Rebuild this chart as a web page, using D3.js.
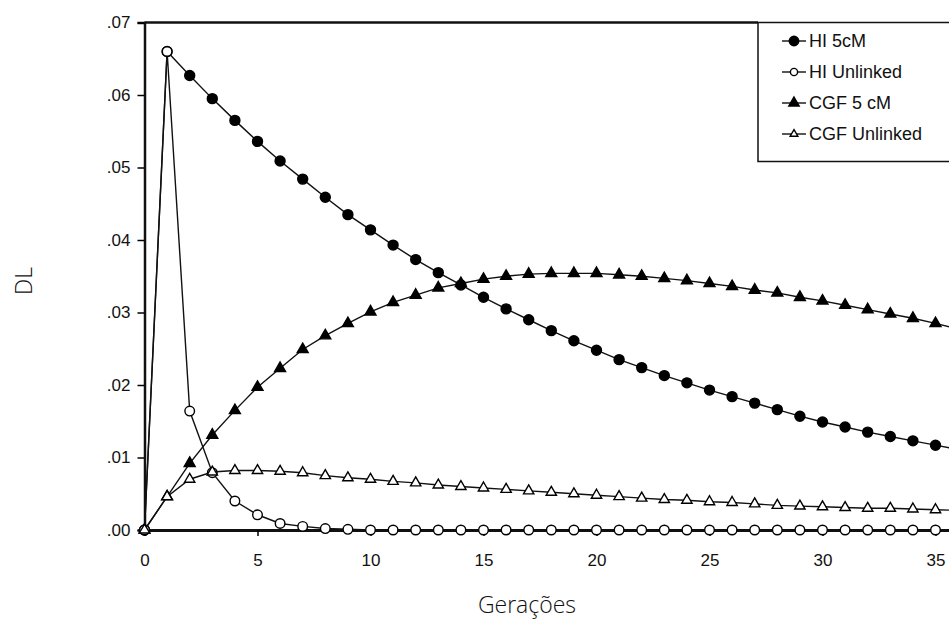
<!DOCTYPE html>
<html>
<head>
<meta charset="utf-8">
<script src="https://cdn.jsdelivr.net/npm/d3@7"></script>
<style>
  body { margin: 0; background: #fff; }
  svg { display: block; }
  .tick text { font-family: "Liberation Sans", Arial, sans-serif; font-size: 17px; fill: #111; }
  .title { font-family: "Open Sans", "Liberation Sans", sans-serif; font-weight: 300; fill: #111; }
</style>
</head>
<body>
<div id="chart"></div>
<script>
// generations 0..36
const generations = d3.range(0, 37);

const hi5cM = [0, 0.066, 0.0627, 0.0595, 0.0565, 0.0536, 0.0509, 0.0484, 0.0459, 0.0435,
  0.0414, 0.0393, 0.0373, 0.0355, 0.0338, 0.0321, 0.0305, 0.029, 0.0275, 0.0261,
  0.0248, 0.0235, 0.0224, 0.0213, 0.0203, 0.0193, 0.0184, 0.0175, 0.0166, 0.0157,
  0.0149, 0.0142, 0.0135, 0.0129, 0.0123, 0.0117, 0.0111];

const hiUnlinked = [0, 0.066, 0.0164, 0.0079, 0.004, 0.0021, 0.0009, 0.0005, 0.0002, 0.0001,
  0, 0, 0, 0, 0, 0, 0, 0, 0, 0,
  0, 0, 0, 0, 0, 0, 0, 0, 0, 0,
  0, 0, 0, 0, 0, 0, 0];

const cgf5cM = [0, 0.0046, 0.0092, 0.0131, 0.0165, 0.0197, 0.0223, 0.0249, 0.0268, 0.0285,
  0.0301, 0.0314, 0.0324, 0.0334, 0.034, 0.0346, 0.035, 0.0353, 0.0354, 0.0354,
  0.0354, 0.0352, 0.035, 0.0347, 0.0344, 0.034, 0.0336, 0.0331, 0.0327, 0.0321,
  0.0316, 0.031, 0.0304, 0.0298, 0.0292, 0.0285, 0.0277];

const cgfUnlinked = [0, 0.0046, 0.007, 0.008, 0.0082, 0.0082, 0.0081, 0.0079, 0.0075, 0.0072,
  0.007, 0.0067, 0.0065, 0.0062, 0.006, 0.0058, 0.0056, 0.0054, 0.0052, 0.005,
  0.0048, 0.0046, 0.0044, 0.0042, 0.0041, 0.0039, 0.0038, 0.0036, 0.0034, 0.0033,
  0.0032, 0.0031, 0.003, 0.003, 0.0029, 0.0028, 0.0027];

const xTicks = [0, 5, 10, 15, 20, 25, 30, 35];
const yTicks = [0, 0.01, 0.02, 0.03, 0.04, 0.05, 0.06, 0.07];
const yTickLabels = ['.00', '.01', '.02', '.03', '.04', '.05', '.06', '.07'];

const seriesNames = ['HI 5cM', 'HI Unlinked', 'CGF 5 cM', 'CGF Unlinked'];

const W = 949, H = 621;
const svg = d3.select('#chart').append('svg').attr('width', W).attr('height', H);

const x = d3.scaleLinear().domain([0, 36]).range([144.5, 144.5 + 36 * 22.6]);
const y = d3.scaleLinear().domain([0, 0.07]).range([530, 22.5]);

// series definitions (draw order matters for overlapping markers)
const series = [
  { name: seriesNames[0], values: hi5cM, shape: 'circle', fill: '#000' },
  { name: seriesNames[2], values: cgf5cM, shape: 'triangle', fill: '#000' },
  { name: seriesNames[1], values: hiUnlinked, shape: 'circle', fill: '#fff' },
  { name: seriesNames[3], values: cgfUnlinked, shape: 'triangle', fill: '#fff' }
];

const line = d3.line()
  .x((d, i) => x(generations[i]))
  .y(d => y(d));

// frame: top line and axes
svg.append('line')
  .attr('x1', x(0)).attr('x2', 758)
  .attr('y1', y(0.07)).attr('y2', y(0.07))
  .attr('stroke', '#111').attr('stroke-width', 2.5);

const xAxis = svg.append('g')
  .attr('transform', `translate(0,${y(0)})`)
  .call(d3.axisBottom(x).tickValues(xTicks).tickSize(6).tickPadding(18).tickFormat(d3.format('d')));
xAxis.select('.domain').attr('stroke-width', 3).attr('stroke', '#111');
xAxis.selectAll('.tick line').attr('stroke-width', 1.5);

const yAxis = svg.append('g')
  .attr('transform', `translate(${x(0)},0)`)
  .call(d3.axisLeft(y).tickValues(yTicks).tickSize(7).tickPadding(7)
    .tickFormat((d, i) => yTickLabels[i]));
yAxis.select('.domain').attr('stroke-width', 2.5).attr('stroke', '#111');
yAxis.selectAll('.tick line').attr('stroke-width', 1.5);

function drawMarker(g, shape, fill, cx, cy, scale) {
  if (shape === 'circle') {
    g.append('circle')
      .attr('cx', cx).attr('cy', cy)
      .attr('r', (fill === '#000' ? 5 : 4.8) * scale)
      .attr('fill', fill).attr('stroke', '#000').attr('stroke-width', 1.4);
  } else {
    g.append('path')
      .attr('d', d3.symbol().type(d3.symbolTriangle).size((fill === '#000' ? 52 : 46) * scale * scale)())
      .attr('transform', `translate(${cx},${cy})`)
      .attr('fill', fill).attr('stroke', '#000').attr('stroke-width', 1.4);
  }
}

series.forEach(s => {
  const g = svg.append('g');
  g.append('path')
    .datum(s.values)
    .attr('d', line)
    .attr('fill', 'none')
    .attr('stroke', '#111')
    .attr('stroke-width', 1.4);
  s.values.forEach((v, i) => drawMarker(g, s.shape, s.fill, x(generations[i]), y(v), 1));
});

// legend
const legend = svg.append('g');
legend.append('rect')
  .attr('x', 758).attr('y', 22.5).attr('width', 220).attr('height', 139)
  .attr('fill', '#fff').attr('stroke', '#111').attr('stroke-width', 1.5);

const legendOrder = [series[0], series[2], series[1], series[3]];
legendOrder.forEach((s, i) => {
  const cy = 41 + i * 31;
  const item = legend.append('g');
  item.append('line')
    .attr('x1', 782).attr('x2', 806).attr('y1', cy).attr('y2', cy)
    .attr('stroke', '#111').attr('stroke-width', 1.4);
  drawMarker(item, s.shape, s.fill, 794, cy, s.fill === '#000' ? 0.95 : 0.75);
  item.append('text')
    .attr('x', 809).attr('y', cy + 6)
    .style('font-family', '"Liberation Sans", Arial, sans-serif')
    .style('font-size', '18px')
    .style('fill', '#111')
    .text(s.name);
});

// axis titles
svg.append('text')
  .attr('class', 'title')
  .attr('x', 527).attr('y', 613)
  .attr('text-anchor', 'middle')
  .style('font-size', '23px')
  .text('Gerações');

svg.append('text')
  .attr('class', 'title')
  .attr('transform', 'translate(32,281) rotate(-90)')
  .attr('text-anchor', 'middle')
  .style('font-size', '23px')
  .text('DL');
</script>
</body>
</html>
